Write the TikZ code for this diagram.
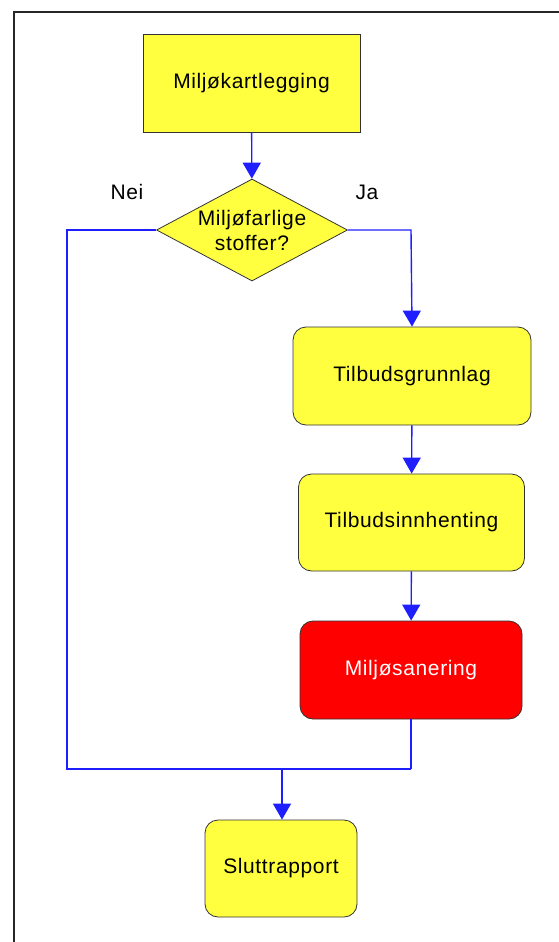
\documentclass[tikz,border=0pt]{standalone}
\usepackage{fontspec}
\setmainfont{Liberation Sans}[LetterSpace=3]
\usetikzlibrary{shapes.geometric,arrows.meta}
\definecolor{boxyellow}{RGB}{255,255,64}
\definecolor{boxred}{RGB}{255,0,0}
\definecolor{linkblue}{RGB}{30,30,255}
\tikzset{
  txt/.style={font=\fontsize{21}{25}\selectfont, align=center, inner sep=0pt},
  procbox/.style={draw=black!80, line width=0.8pt, fill=boxyellow, rounded corners=13pt, txt},
  startbox/.style={draw=black!80, line width=0.8pt, fill=boxyellow, txt},
  redbox/.style={procbox, fill=boxred, text=white},
  decide/.style={diamond, draw=black!80, line width=0.8pt, fill=boxyellow, inner sep=0pt},
  link/.style={draw=linkblue, line width=1.4pt},
  flow/.style={link, -{Triangle[width=18pt,length=16pt]}},
}
\begin{document}
\begin{tikzpicture}[x=1pt,y=-1pt]
\useasboundingbox (0,0) rectangle (559,942);
\draw[line width=2pt, black!85] (13.5,942) -- (13.5,12) -- (559,12);

\node[startbox, minimum width=217pt, minimum height=98pt] (kart) at (251.5,83) {Miljøkartlegging};
\node[decide, minimum width=191pt, minimum height=102pt] (dia) at (252,230) {};
\node[txt] (diatxt) at (dia.center) {Miljøfarlige\\stoffer?};
\node[txt] (nei) at (127,192) {Nei};
\node[txt] (ja) at (367,192) {Ja};
\node[procbox, minimum width=238pt, minimum height=98pt] (tgr) at (412,376) {Tilbudsgrunnlag};
\node[procbox, minimum width=226pt, minimum height=97pt] (tinn) at (411.5,522.5) {Tilbudsinnhenting};
\node[redbox, minimum width=222pt, minimum height=98pt] (san) at (411,670) {Miljøsanering};
\node[procbox, minimum width=152pt, minimum height=97pt] (slutt) at (281,868.5) {Sluttrapport};

\coordinate (jr) at (411,230);
\coordinate (bl) at (67,769);
\coordinate (br) at (411,769);
\coordinate (jn) at (282,769);

\draw[flow] (kart) -- (dia);
\draw[link] (dia.west) -| (bl) -- (br);
\draw[link] (san.south) -- (br);
\draw[flow] (dia.east) -- (jr) -- (tgr.north);
\draw[flow] (tgr) -- (tinn);
\draw[flow] (tinn) -- (san);
\draw[flow] (jn) -- (slutt.north -| jn);
\end{tikzpicture}
\end{document}
